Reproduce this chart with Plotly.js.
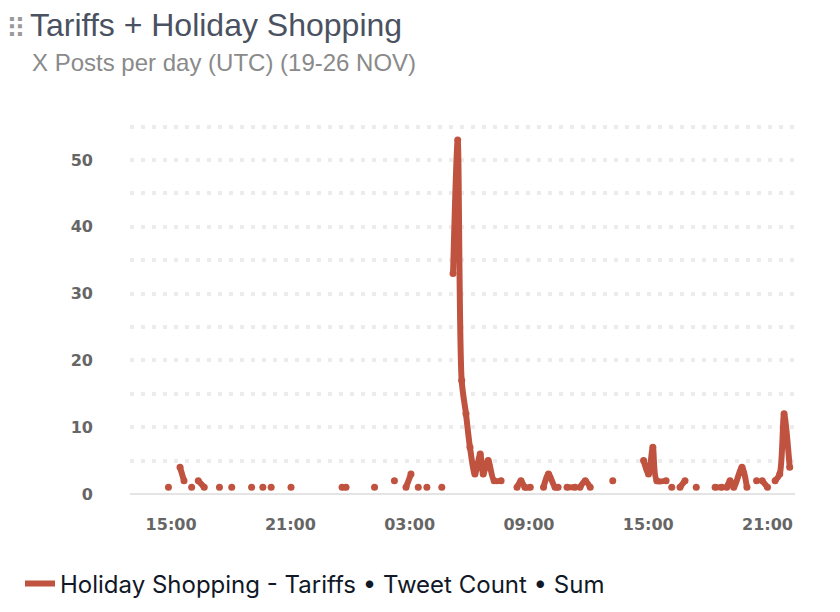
<!DOCTYPE html>
<html>
<head>
<meta charset="utf-8">
<script src="https://cdn.plot.ly/plotly-3.0.1.min.js"></script>
<style>html,body{margin:0;padding:0;background:#fff;}#chart{width:840px;height:612px;}</style>
</head>
<body>
<div id="chart"></div>
<script>
// Times (UTC) of each reading; null entries separate disconnected runs
var times = [
  "2024-11-25 14:52", null,
  "2024-11-25 15:27", "2024-11-25 15:39", null,
  "2024-11-25 16:02", null,
  "2024-11-25 16:22", "2024-11-25 16:40", null,
  "2024-11-25 17:26", null,
  "2024-11-25 18:03", null,
  "2024-11-25 19:03", null,
  "2024-11-25 19:37", null,
  "2024-11-25 20:02", null,
  "2024-11-25 21:02", null,
  "2024-11-25 23:36", "2024-11-25 23:48", null,
  "2024-11-26 01:14", null,
  "2024-11-26 02:14", null,
  "2024-11-26 02:49", "2024-11-26 03:04", null,
  "2024-11-26 03:26", null,
  "2024-11-26 03:52", null,
  "2024-11-26 04:37", null,
  "2024-11-26 05:11", "2024-11-26 05:25", "2024-11-26 05:37", "2024-11-26 05:50", "2024-11-26 06:02",
  "2024-11-26 06:17", "2024-11-26 06:33", "2024-11-26 06:42", "2024-11-26 06:57", "2024-11-26 07:15",
  "2024-11-26 07:36", null,
  "2024-11-26 08:24", "2024-11-26 08:36", "2024-11-26 08:48", "2024-11-26 09:04", null,
  "2024-11-26 09:44", "2024-11-26 09:59", "2024-11-26 10:19", "2024-11-26 10:28", null,
  "2024-11-26 10:55", "2024-11-26 11:19", null,
  "2024-11-26 11:34", "2024-11-26 11:50", "2024-11-26 12:05", null,
  "2024-11-26 13:13", null,
  "2024-11-26 14:46", "2024-11-26 15:01", "2024-11-26 15:14", "2024-11-26 15:26", "2024-11-26 15:54", null,
  "2024-11-26 16:11", null,
  "2024-11-26 16:36", "2024-11-26 16:51", null,
  "2024-11-26 17:25", null,
  "2024-11-26 18:22", "2024-11-26 18:42", null,
  "2024-11-26 18:57", "2024-11-26 19:07", "2024-11-26 19:18", "2024-11-26 19:43", "2024-11-26 19:58", null,
  "2024-11-26 20:27", null,
  "2024-11-26 20:44", "2024-11-26 21:00", null,
  "2024-11-26 21:23", "2024-11-26 21:37", "2024-11-26 21:50", "2024-11-26 22:07"
];
var tweetCounts = [
  1, null,
  4, 2, null,
  1, null,
  2, 1, null,
  1, null,
  1, null,
  1, null,
  1, null,
  1, null,
  1, null,
  1, 1, null,
  1, null,
  2, null,
  1, 3, null,
  1, null,
  1, null,
  1, null,
  33, 53, 17, 12, 7,
  3, 6, 3, 5, 2,
  2, null,
  1, 2, 1, 1, null,
  1, 3, 1, 1, null,
  1, 1, null,
  1, 2, 1, null,
  2, null,
  5, 3, 7, 2, 2, null,
  1, null,
  1, 2, null,
  1, null,
  1, 1, null,
  1, 2, 1, 4, 1, null,
  2, null,
  2, 1, null,
  2, 3, 12, 4
];
var seriesName = "Holiday Shopping - Tariffs \u2022 Tweet Count \u2022 Sum";
var chartTitle = "Tariffs + Holiday Shopping";
var chartSubtitle = "X Posts per day (UTC) (19-26 NOV)";
var xRange = ["2024-11-25 12:56", "2024-11-26 22:23"];
var yTickVals = [0, 10, 20, 30, 40, 50];

var lineColor = "#c0533f";
var lineTrace = {
  x: times,
  y: tweetCounts,
  type: "scatter",
  mode: "lines",
  name: seriesName,
  connectgaps: false,
  line: {color: lineColor, width: 6, shape: "spline", smoothing: 0.8},
  showlegend: true
};
var pointTrace = {
  x: times,
  y: tweetCounts,
  type: "scatter",
  mode: "markers",
  name: seriesName,
  marker: {color: lineColor, size: 7},
  showlegend: false
};

var gridStyle = {gridcolor: "#ececec", gridwidth: 4, griddash: "4px,7px"};

var layout = {
  width: 840,
  height: 612,
  margin: {l: 130, r: 45, t: 120, b: 118, autoexpand: false},
  paper_bgcolor: "#ffffff",
  plot_bgcolor: "#ffffff",
  title: {
    text: chartTitle,
    xref: "container", yref: "container",
    x: 30 / 840, xanchor: "left",
    y: 1 - 25 / 612, yanchor: "middle",
    font: {family: "Liberation Sans, Arial, sans-serif", size: 32, color: "#4a5161"}
  },
  annotations: [
    {
      text: chartSubtitle, xref: "paper", yref: "paper",
      x: (30 - 130) / 665, xanchor: "left",
      y: (494 - 62) / 374, yanchor: "middle",
      showarrow: false,
      font: {family: "Liberation Sans, Arial, sans-serif", size: 24, color: "#8a8a8a"}
    },
    {
      text: "\u283F", xref: "paper", yref: "paper",
      x: (16 - 130) / 665, xanchor: "center",
      y: (494 - 29) / 374, yanchor: "middle",
      showarrow: false,
      font: {family: "DejaVu Sans", size: 27, color: "#9a9a9a"}
    }
  ],
  xaxis: {
    type: "date",
    range: xRange,
    tick0: "2024-11-25 03:00",
    dtick: 6 * 3600 * 1000,
    tickformat: "%H:%M",
    showgrid: false,
    showline: false,
    zeroline: false,
    ticks: "",
    ticklabelstandoff: 19,
    tickfont: {family: "DejaVu Sans, sans-serif", size: 16, color: "#666666", weight: "bold"}
  },
  yaxis: {
    range: [0, 56],
    tickvals: yTickVals,
    showgrid: true,
    gridcolor: gridStyle.gridcolor,
    gridwidth: gridStyle.gridwidth,
    griddash: gridStyle.griddash,
    minor: {dtick: 5, showgrid: true, gridcolor: gridStyle.gridcolor, gridwidth: gridStyle.gridwidth, griddash: gridStyle.griddash},
    zeroline: true,
    zerolinecolor: "#e4e4e4",
    zerolinewidth: 2,
    showline: false,
    ticks: "",
    ticklabelstandoff: 36,
    tickfont: {family: "DejaVu Sans, sans-serif", size: 16, color: "#666666", weight: "bold"}
  },
  legend: {
    orientation: "h",
    x: (20 - 130) / 665, xanchor: "left",
    y: (494 - 584) / 374, yanchor: "middle",
    font: {family: "Inter, sans-serif", size: 24, color: "#111827"},
    bgcolor: "rgba(0,0,0,0)"
  },
  showlegend: true
};

Plotly.newPlot("chart", [lineTrace, pointTrace], layout, {displayModeBar: false, staticPlot: true});
</script>
</body>
</html>
